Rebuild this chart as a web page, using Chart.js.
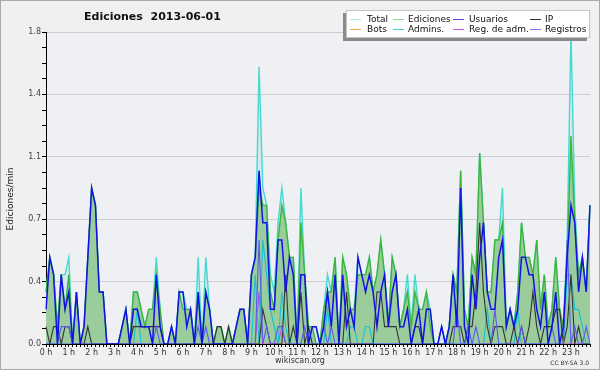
<!DOCTYPE html>
<html><head><meta charset="utf-8">
<script src="https://cdn.jsdelivr.net/npm/chart.js@4.4.0/dist/chart.umd.min.js"></script>
<style>
html,body{margin:0;padding:0;background:#f0f0f0;}
#wrap{position:relative;width:600px;height:370px;overflow:hidden;background:#f0f0f0;}
#frame{position:absolute;left:0;top:0;width:600px;height:370px;box-sizing:border-box;border:1px solid #a9a9a9;pointer-events:none;}
canvas{position:absolute;left:0;top:0;}
.t{position:absolute;font-family:"DejaVu Sans";white-space:pre;color:#111;}
#title{left:84px;top:11px;font-size:11px;line-height:11px;font-weight:bold;}
#ytitle{left:-30px;top:193px;width:80px;text-align:center;font-size:9px;line-height:12px;transform:rotate(-90deg);color:#111;}
#foot{left:0;top:357px;width:600px;text-align:center;font-size:8px;line-height:8px;color:#333;}
#cc{right:11px;top:360px;font-size:6px;line-height:6px;color:#333;}
#legend{position:absolute;left:346px;top:10px;width:244px;height:28px;box-sizing:border-box;background:#fff;border:1px solid #c4c4c4;box-shadow:-3px 3px 0 #8a8a8a;}
.li{position:absolute;font-family:"DejaVu Sans";font-size:9px;line-height:9px;white-space:pre;color:#111;}
.ls{position:absolute;height:1px;width:11px;}
</style></head>
<body><div id="wrap">
<canvas id="c" width="600" height="370"></canvas>
<div class="t" id="title">Ediciones  2013-06-01</div>
<div class="t" id="ytitle">Ediciones/min</div>
<div class="t" id="foot">wikiscan.org</div>
<div class="t" id="cc">CC BY-SA 3.0</div>
<div id="legend"></div>
<div id="frame"></div>
</div>
<script>
// ---- data (edits per minute, 10-minute buckets, 2013-06-01) ----
const hourLabels = ["0 h","1 h","2 h","3 h","4 h","5 h","6 h","7 h","8 h","9 h","10 h","11 h","12 h","13 h","14 h","15 h","16 h","17 h","18 h","19 h","20 h","21 h","22 h","23 h"];
const categories = [];
for (let h = 0; h < 24; h++) for (let m = 0; m < 60; m += 10) categories.push(h + ":" + String(m).padStart(2, "0"));

const total = [
0.3,0.5,0.4,0.1,0.4,0.4,0.5,0,0.3,0,0.1,0.5, 0.9,0.8,0.3,0.3,0,0,0,0,0.1,0.2,0,0.3,
0.3,0.2,0.1,0.2,0.2,0.5,0.2,0,0,0.1,0,0.3, 0.3,0.2,0.2,0,0.5,0,0.5,0.2,0,0.1,0.1,0,
0.1,0,0.1,0.2,0.2,0,0.4,0.5,1.6,0.9,0.8,0.4, 0.3,0.7,0.9,0.7,0.5,0.5,0,0.9,0.4,0.1,0.1,0.1,
0,0.2,0.4,0.3,0.5,0,0.5,0.4,0.2,0.2,0.5,0.4, 0.4,0.5,0.3,0.4,0.6,0.4,0.1,0.5,0.4,0.1,0.2,0.4,
0.1,0.4,0.2,0.2,0.3,0.2,0,0,0.1,0,0.1,0.4, 0.3,1.0,0.2,0.1,0.5,0.4,1.1,0.7,0.3,0.3,0.6,0.6,
0.9,0.1,0.2,0.1,0.3,0.7,0.5,0.5,0.4,0.6,0.2,0.4, 0.1,0.2,0.5,0.2,0.1,0.6,1.8,0.8,0.4,0.5,0.3,0.8];

const ediciones = [
0.3,0.5,0.4,0.1,0.4,0.2,0.4,0,0.3,0,0.1,0.5, 0.9,0.8,0.3,0.3,0,0,0,0,0.1,0.2,0,0.3,
0.3,0.2,0.1,0.2,0.2,0.4,0.2,0,0,0.1,0,0.3, 0.2,0.2,0.2,0,0.3,0,0.3,0.2,0,0.1,0.1,0,
0.1,0,0.1,0.2,0.2,0,0.4,0.5,0.9,0.8,0.8,0.3, 0.2,0.6,0.8,0.7,0.5,0.5,0,0.7,0.4,0.1,0.1,0,
0,0.2,0.3,0.3,0.5,0,0.5,0.4,0.2,0.2,0.4,0.4, 0.4,0.5,0.3,0.4,0.6,0.4,0.1,0.5,0.4,0.1,0.2,0.3,
0.1,0.3,0.2,0.2,0.3,0.1,0,0,0,0,0.1,0.4, 0.3,1.0,0.2,0.1,0.5,0.4,1.1,0.7,0.3,0.3,0.6,0.6,
0.7,0.1,0.2,0.1,0.3,0.7,0.5,0.5,0.4,0.6,0.2,0.4, 0.1,0.2,0.5,0.2,0.1,0.5,1.2,0.7,0.4,0.5,0.3,0.8];

const usuarios = [
0.2,0.5,0.4,0,0.4,0.2,0.3,0,0.3,0,0.1,0.5, 0.9,0.8,0.3,0.3,0,0,0,0,0.1,0.2,0,0.2,
0.2,0.1,0.1,0.1,0,0.4,0.1,0,0,0.1,0,0.3, 0.3,0.1,0.2,0,0.3,0,0.3,0.2,0,0,0,0,
0,0,0.1,0.2,0.2,0,0.4,0.5,1.0,0.7,0.7,0.2, 0.2,0.6,0.6,0.3,0.5,0.4,0,0.4,0.4,0,0.1,0.1,
0,0.1,0.3,0.1,0.4,0,0.4,0.1,0.2,0.1,0.5,0.4, 0.3,0.4,0.3,0.1,0.3,0.4,0.1,0.3,0.4,0.1,0.1,0.2,
0,0.1,0.2,0,0.2,0.2,0,0,0.1,0,0.1,0.4, 0.1,0.9,0.1,0,0.4,0.2,0.5,0.7,0.3,0.2,0.2,0.5,
0.6,0.1,0.2,0.1,0.2,0.5,0.5,0.4,0.4,0.2,0.1,0.3, 0,0.1,0.3,0,0.1,0.5,0.8,0.7,0.3,0.5,0.3,0.8];

const ip = [
0.1,0,0.1,0.1,0,0.1,0.1,0,0,0,0,0.1, 0,0,0,0,0,0,0,0,0,0,0,0.1,
0.1,0.1,0.1,0.1,0.1,0.1,0.1,0,0,0,0,0, 0,0,0,0,0,0,0,0,0,0.1,0.1,0,
0.1,0,0,0,0,0,0,0,0,0.2,0.1,0, 0,0,0,0.4,0,0.1,0,0.3,0,0.1,0,0,
0,0,0,0,0,0,0,0.3,0,0,0,0, 0,0,0,0.3,0.3,0.1,0.1,0.1,0.1,0,0,0,
0,0.1,0.1,0,0,0,0,0,0,0,0,0.1, 0.1,0.1,0,0.1,0.1,0.3,0.7,0.3,0.1,0,0.1,0.1,
0.1,0,0,0.1,0,0.1,0,0.1,0.3,0.1,0,0.1, 0.1,0.1,0.2,0.2,0,0.1,0.4,0,0.1,0,0,0];

const bots = [
0,0,0,0,0,0,0,0,0,0,0,0, 0,0,0,0,0,0,0,0,0,0,0,0,
0,0,0,0,0,0,0,0,0,0,0,0, 0,0,0,0,0,0,0,0,0,0,0,0,
0,0,0,0,0,0,0,0,0,0,0,0, 0,0,0,0,0,0,0,0,0,0,0,0,
0,0,0,0,0,0,0,0,0,0,0,0, 0,0,0,0,0,0,0,0,0,0,0,0,
0,0,0,0,0,0,0,0,0,0,0,0, 0,0,0,0,0,0,0,0,0,0,0,0,
0,0,0,0,0,0,0,0,0,0,0,0, 0,0,0,0,0,0,0,0,0,0,0,0];

const admins = [
0,0,0,0,0,0,0,0,0,0,0,0, 0,0,0,0,0,0,0,0,0,0,0,0,
0.2,0,0,0,0,0,0,0,0,0,0,0, 0,0,0,0,0,0,0,0,0,0,0,0,
0,0,0,0,0,0,0,0.4,0,0.6,0.4,0.2, 0.1,0,0.3,0.1,0,0,0,0,0,0,0,0,
0,0,0.2,0,0,0,0,0,0.1,0.1,0,0, 0.1,0.1,0,0,0,0,0,0,0,0,0,0,
0,0,0,0,0,0,0,0,0,0,0,0, 0,0,0,0,0,0,0,0,0.2,0,0,0,
0,0,0,0,0.2,0,0,0,0,0,0,0, 0,0,0,0,0,0.4,0.4,0.2,0.2,0.1,0,0];

const regAdm = [
0,0,0,0,0,0,0,0,0,0,0,0, 0,0,0,0,0,0,0,0,0,0,0,0,
0,0,0,0,0,0,0,0,0,0,0,0, 0,0,0,0,0,0,0,0,0,0,0,0,
0,0,0,0,0,0,0,0,0.3,0,0,0, 0,0,0.1,0,0,0,0,0,0,0,0,0,
0,0,0,0,0,0,0,0,0,0,0,0, 0,0,0,0,0,0,0,0,0,0,0,0,
0,0,0,0,0,0,0,0,0,0,0,0, 0,0,0,0,0,0,0,0,0,0,0,0,
0,0,0,0,0,0,0,0,0,0,0,0, 0,0,0,0,0,0,0,0,0,0,0,0];

const registros = [
0,0,0,0,0.1,0.1,0.1,0,0,0,0,0, 0,0,0,0,0,0,0,0,0,0,0,0,
0,0,0,0,0,0.1,0,0,0,0,0,0, 0,0,0,0,0.1,0,0.1,0,0,0,0,0,
0,0,0,0,0,0,0,0,0.6,0,0.1,0, 0,0.1,0.1,0,0,0,0,0,0.1,0,0,0,
0,0.1,0,0.1,0,0,0,0,0,0,0,0, 0,0,0,0,0,0,0,0,0,0,0,0,
0,0,0,0,0,0,0,0,0.1,0,0,0, 0.2,0,0,0.1,0,0.1,0,0,0,0,0.2,0,
0,0,0,0,0,0.1,0,0,0,0,0,0, 0,0.1,0,0,0,0.6,0,0.1,0,0,0.1,0];

const yTickLabels = ["0.0","0.4","0.7","1.1","1.4","1.8"];

const seriesNames = ["Total","Ediciones","Usuarios","IP","Bots","Admins.","Reg. de adm.","Registros"];
const lineColors  = ["#46d9cf","#3cb53c","#1212e6","#333333","#f0a030","#16c2d4","#c844ee","#5a5af2"];
const legendColors= ["#b2eaea","#8fd48f","#4a4ae6","#333333","#f2a444","#45cad8","#cc55ee","#7878f0"];

// ---- chart ----
const seriesData = [total, ediciones, usuarios, ip, bots, admins, regAdm, registros];
const order      = [9, 8, 1, 3, 7, 4, 5, 2];
const widths     = [1.4, 1.4, 1.5, 1.1, 1, 1.1, 1.1, 1.1];

const datasets = seriesData.map((d, k) => ({
  label: seriesNames[k],
  data: d,
  borderColor: lineColors[k],
  borderWidth: widths[k],
  pointRadius: 0,
  tension: 0,
  order: order[k],
  fill: (k === 0 || k === 1) ? 'origin' : false,
  backgroundColor: k === 0 ? '#d4e9ef' : (k === 1 ? '#9bcc9b' : 'transparent')
}));

const plotBg = {
  id: 'plotBg',
  beforeDraw(chart) {
    const {ctx, chartArea: a} = chart;
    ctx.save();
    ctx.fillStyle = '#eef0f3';
    ctx.fillRect(a.left, a.top, a.right - a.left, a.bottom - a.top);
    ctx.restore();
  }
};

new Chart(document.getElementById('c'), {
  type: 'line',
  data: { labels: categories, datasets },
  plugins: [plotBg],
  options: {
    responsive: false,
    animation: false,
    layout: { padding: { top: 32, right: 10, left: 0, bottom: 0 } },
    plugins: { legend: { display: false }, tooltip: { enabled: false }, title: { display: false } },
    scales: {
      x: {
        type: 'category',
        offset: false,
        z: 1,
        border: { color: '#000', width: 1 },
        grid: { drawOnChartArea: false, drawTicks: true, tickLength: 3, tickColor: '#000', tickWidth: 1 },
        ticks: {
          autoSkip: false, maxRotation: 0, minRotation: 0, padding: 1,
          color: '#333', font: { family: 'DejaVu Sans', size: 8 },
          callback: (v, i) => (i % 6 === 0 ? hourLabels[i / 6] : '')
        },
        afterFit: s => { s.height = 26; }
      },
      y: {
        min: 0, max: 1.8,
        border: { color: '#000', width: 1 },
        grid: {
          color: c => (c.index % 4 === 0 ? '#cdcdcd' : 'rgba(0,0,0,0)'),
          tickColor: '#000', tickLength: 4, tickWidth: 1
        },
        ticks: {
          stepSize: 0.09, autoSkip: false, padding: 1,
          color: '#444', font: { family: 'DejaVu Sans', size: 8 },
          callback: (v, i) => (i % 4 === 0 ? yTickLabels[i / 4] : '')
        },
        afterFit: s => { s.width = 46; }
      }
    }
  }
});

// ---- legend (HTML, 4 columns x 2 rows) ----
const lg = document.getElementById('legend');
const sampleX = [3, 46, 106, 183];   // relative to legend box content
const textX   = [20, 61, 122, 198];
const rowY = [4, 14];
seriesNames.forEach((name, k) => {
  const col = k % 4, row = Math.floor(k / 4);
  const s = document.createElement('div');
  s.className = 'ls';
  s.style.left = sampleX[col] + 'px';
  s.style.top = (rowY[row] + 4) + 'px';
  s.style.background = legendColors[k];
  lg.appendChild(s);
  const t = document.createElement('div');
  t.className = 'li';
  t.style.left = textX[col] + 'px';
  t.style.top = rowY[row] + 'px';
  t.textContent = name;
  lg.appendChild(t);
});
</script>
</body></html>
